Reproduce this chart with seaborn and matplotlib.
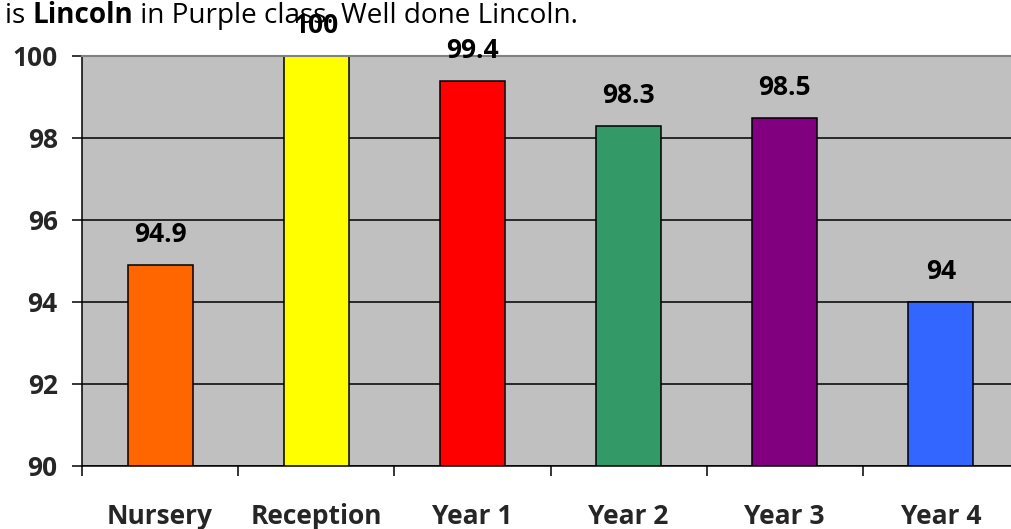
import matplotlib
matplotlib.use("Agg")
import matplotlib.pyplot as plt
import seaborn as sns
import pandas as pd
from matplotlib.ticker import FixedLocator

categories = ["Nursery", "Reception", "Year 1", "Year 2", "Year 3", "Year 4"]
values = [94.9, 100, 99.4, 98.3, 98.5, 94]
colors = ["#FF6600", "#FFFF00", "#FF0000", "#339966", "#800080", "#3366FF"]
yticks = [90, 92, 94, 96, 98, 100]
header_parts = [("is ", "normal"), ("Lincoln", "bold"),
                (" in Purple class. Well done Lincoln.", "normal")]

sns.set_theme(style="white")
plt.rcParams["font.family"] = ["Open Sans", "DejaVu Sans"]

df = pd.DataFrame({"cat": categories, "val": values})

fig = plt.figure(figsize=(10.11, 5.29), dpi=100)
ax = fig.add_axes([82/1011, 63/529, 937/1011, 410/529])
ax.set_facecolor("#C0C0C0")

sns.barplot(data=df, x="cat", y="val", hue="cat", palette=colors,
            order=categories, hue_order=categories, legend=False,
            width=0.416, edgecolor="black", linewidth=1.1, saturation=1, ax=ax)

ax.set_ylim(90, 100)
ax.set_xlim(-0.5, 5.5)
ax.set_yticks(yticks)
ax.set_yticklabels([str(t) for t in yticks], fontsize=19, fontweight="bold")
ax.set_axisbelow(True)
ax.yaxis.grid(True, color="black", linewidth=1.1)
ax.get_ygridlines()[-1].set_visible(False)
ax.xaxis.grid(False)

ax.xaxis.set_major_locator(FixedLocator([i - 0.5 for i in range(len(categories))]))
ax.xaxis.set_minor_locator(FixedLocator(list(range(len(categories)))))
ax.set_xticklabels([], minor=False)
ax.set_xticklabels(categories, minor=True, fontsize=19, fontweight="bold")
ax.tick_params(axis="x", which="major", length=7.5, width=1.1, color="black",
               direction="out", bottom=True)
ax.tick_params(axis="x", which="minor", length=0, pad=26.5, bottom=True)
ax.tick_params(axis="y", which="major", length=7.5, width=1.1, color="black",
               direction="out", left=True, pad=10)
ax.set_xlabel("")
ax.set_ylabel("")

for side in ["left", "bottom"]:
    ax.spines[side].set_color("black")
    ax.spines[side].set_linewidth(1.1)
ax.spines["top"].set_color("#808080")
ax.spines["top"].set_linewidth(1.5)
ax.spines["right"].set_visible(False)

for cont in ax.containers:
    labels = ax.bar_label(cont, fmt="%g", padding=12, fontsize=19,
                          fontweight="bold", color="black")
    for t in labels:
        t.set_clip_on(False)

# header text with mixed weights, sized to span the reference width
renderer = fig.canvas.get_renderer()
target_w = 573.0
base = 18.0
probe_w = 0.0
for txt, wt in header_parts:
    t = fig.text(0, 0, txt, fontsize=base, fontweight=wt)
    probe_w += t.get_window_extent(renderer=renderer).width
    t.remove()
size = base * target_w / probe_w

x = 5 / 1011
y = 1 - 23 / 529
for txt, wt in header_parts:
    t = fig.text(x, y, txt, fontsize=size, fontweight=wt, ha="left",
                 va="baseline", color="black", zorder=0)
    bb = t.get_window_extent(renderer=renderer)
    x += bb.width / 1011

fig.savefig("out.png", dpi=100)
